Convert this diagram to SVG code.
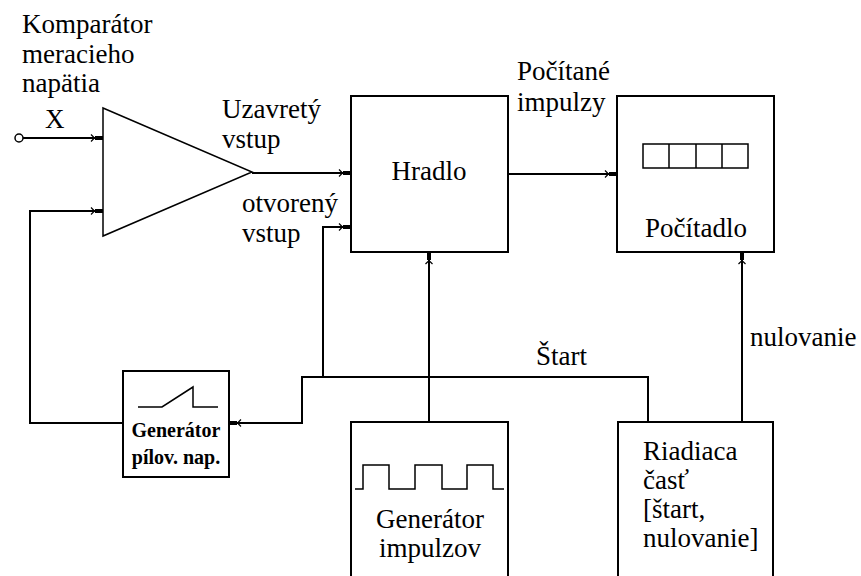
<svg xmlns="http://www.w3.org/2000/svg" width="861" height="576" viewBox="0 0 861 576">
<style>
.box{fill:none;stroke:#000;stroke-width:2}
.ln{fill:none;stroke:#000;stroke-width:2}
.thin{fill:none;stroke:#000;stroke-width:1.5}
text{font-family:'Liberation Serif','Times New Roman',serif;font-size:27px;fill:#000}
.sm{font-size:20px;font-weight:bold}
</style>
<defs>
<marker id="ar" markerUnits="userSpaceOnUse" viewBox="0 -4 14 8" refX="13" refY="0" markerWidth="14" markerHeight="8" orient="auto">
<path d="M1,-3.5 L4.5,0 L1,3.5" fill="none" stroke="#000" stroke-width="1.2"/>
<rect x="5" y="-2" width="8" height="4" fill="#000"/>
</marker>
</defs>
<rect width="861" height="576" fill="#fff"/>

<g id="labels">
<text x="22" y="33">Komparátor</text>
<text x="22" y="63">meracieho</text>
<text x="22" y="92">napätia</text>
<text x="45" y="128">X</text>
<text x="222" y="118">Uzavretý</text>
<text x="222" y="148">vstup</text>
<text x="242" y="212">otvorený</text>
<text x="242" y="242">vstup</text>
<text x="517" y="80">Počítané</text>
<text x="517" y="111">impulzy</text>
<text x="536" y="365">Štart</text>
<text x="750" y="346">nulovanie</text>
</g>

<g id="komparator">
<polygon class="thin" points="103,108 252,172 103,236"/>
</g>

<g id="hradlo">
<rect class="box" x="351" y="96" width="157" height="156"/>
<text x="429" y="180" text-anchor="middle">Hradlo</text>
</g>

<g id="pocitadlo">
<rect class="box" x="617" y="96" width="157" height="156"/>
<rect class="thin" x="643" y="144" width="105" height="24"/>
<path class="thin" d="M669,144V168M696,144V168M722,144V168"/>
<text x="696" y="237" text-anchor="middle">Počítadlo</text>
</g>

<g id="gen-pilov">
<rect class="box" x="123" y="371" width="106" height="106"/>
<path class="thin" d="M138,407H162L193,387V407H218"/>
<text class="sm" x="176" y="437" text-anchor="middle">Generátor</text>
<text class="sm" x="176" y="464" text-anchor="middle">pílov. nap.</text>
</g>

<g id="gen-impulzov">
<path class="box" d="M351,580V422H508V580"/>
<path class="thin" d="M355,489H363V465H389V489H415V465H442V489H467V465H493V489H504"/>
<text x="430" y="528" text-anchor="middle">Generátor</text>
<text x="430" y="557" text-anchor="middle">impulzov</text>
</g>

<g id="riadiaca">
<path class="box" d="M618,580V422H773V580"/>
<text x="643" y="460">Riadiaca</text>
<text x="643" y="489">časť</text>
<text x="643" y="518">[štart,</text>
<text x="643" y="547">nulovanie]</text>
</g>

<g id="connectors">
<circle cx="19" cy="138" r="4" fill="#fff" stroke="#000" stroke-width="1.5"/>
<line class="ln" x1="23" y1="138" x2="103" y2="138" marker-end="url(#ar)"/>
<polyline class="ln" points="123,423 30,423 30,211 103,211" marker-end="url(#ar)"/>
<line class="ln" x1="252" y1="173" x2="351" y2="173" marker-end="url(#ar)"/>
<line class="ln" x1="508" y1="174" x2="617" y2="174" marker-end="url(#ar)"/>
<polyline class="ln" points="648,422 648,377 302,377 302,423 229,423" marker-end="url(#ar)"/>
<polyline class="ln" points="323,377 323,227 351,227" marker-end="url(#ar)"/>
<line class="ln" x1="429" y1="422" x2="429" y2="252" marker-end="url(#ar)"/>
<line class="ln" x1="742" y1="422" x2="742" y2="252" marker-end="url(#ar)"/>
</g>
</svg>
